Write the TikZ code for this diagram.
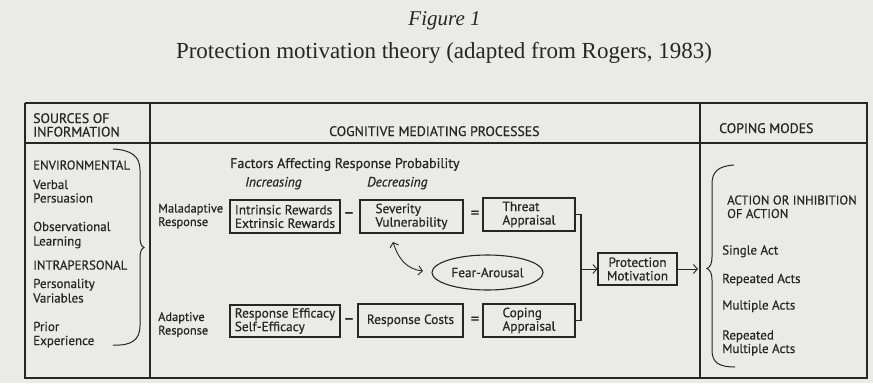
\documentclass[tikz,border=0pt]{standalone}
\usepackage{fontspec}
\setmainfont{Liberation Serif}
\newfontfamily\gill[FakeBold=0.5]{PT Sans}
\usetikzlibrary{arrows.meta,shapes.geometric}
\definecolor{paper}{RGB}{234,234,232}
\definecolor{ink}{RGB}{38,38,38}
\begin{document}
\begin{tikzpicture}[x=1pt,y=-1pt,
 txt/.style={font=\gill\fontsize{13}{13.5}\selectfont, text=ink, inner sep=0pt, anchor=base west},
 side/.style={font=\gill\fontsize{12.4}{13}\selectfont, text=ink, inner sep=0pt, anchor=base west},
 caps/.style={font=\gill\fontsize{12.8}{13}\selectfont, text=ink, inner sep=0pt, anchor=base west},
 head/.style={font=\gill\fontsize{13.8}{13}\selectfont, text=ink, inner sep=0pt, anchor=base west},
 boxn/.style={draw=ink, line width=1.1pt, font=\gill\fontsize{13.3}{13.5}\selectfont, text=ink, align=left, inner sep=0pt},
 op/.style={font=\gill\fontsize{17}{17}\selectfont, text=ink, inner sep=0pt},
 rule/.style={draw=ink, line width=1.1pt},
 arr/.style={draw=ink, line width=0.9pt, -{Straight Barb[length=4pt,width=9pt]}},
 darr/.style={draw=ink, line width=0.9pt, {Straight Barb[length=4pt,width=9pt]}-{Straight Barb[length=4pt,width=9pt]}},
]
\fill[paper] (0,0) rectangle (873,383);
\useasboundingbox (0,0) rectangle (873,383);

% titles
\node[font=\itshape\fontsize{21}{21}\selectfont, text=ink, inner sep=0pt, anchor=base] (fig) at (444.5,25) {Figure 1};
\node[font=\fontsize{23}{23}\selectfont, text=ink, inner sep=0pt, anchor=base] (title) at (444,58) {Protection motivation theory (adapted from Rogers, 1983)};

% frame
\draw[rule] (25,103) -- (25,378) -- (867,378) -- (867,103);
\draw[draw=ink, line width=1.8pt] (24.5,103) -- (867.5,103);
\draw[rule] (25,143) -- (867,143);
\draw[rule] (150,103) -- (150,378);
\draw[rule] (700,103) -- (700,378);

% column 1
\node[head] (s1) at (33,123) {SOURCES OF};
\node[head] (s2) at (33,136.5) {INFORMATION};
\node[caps] (env) at (33,169.5) {ENVIRONMENTAL};
\node[txt] (v1) at (33,189) {Verbal};
\node[txt] (v2) at (33,202.5) {Persuasion};
\node[txt] (o1) at (33,231) {Observational};
\node[txt] (o2) at (33,245.5) {Learning};
\node[caps] (intra) at (33,269.5) {INTRAPERSONAL};
\node[txt] (p1) at (33,288) {Personality};
\node[txt] (p2) at (33,302.5) {Variables};
\node[txt] (e1) at (33,331) {Prior};
\node[txt] (e2) at (33,345) {Experience};
\draw[draw=ink, line width=1pt] (113,149) .. controls (131,150) and (140,156) .. (140,170) -- (140,236)
  .. controls (140,243) and (141,246) .. (144,247.5) .. controls (141,249) and (140,252) .. (140,259)
  -- (140,326) .. controls (140,340) and (131,346) .. (113,345);

% column 2 headers
\node[head] (cmp) at (329,136) {COGNITIVE MEDIATING PROCESSES};
\node[txt, font=\gill\fontsize{14}{14}\selectfont] (fac) at (230,168) {Factors Affecting Response Probability};
\node[txt, font=\gill\itshape\fontsize{13.5}{13.5}\selectfont] (inc) at (245,186.5) {Increasing};
\node[txt, font=\gill\itshape\fontsize{13.5}{13.5}\selectfont] (dec) at (367,186.5) {Decreasing};

\node[side] (m1) at (158,212.5) {Maladaptive};
\node[side] (m2) at (158,226) {Response};
\node[side] (a1) at (158,321) {Adaptive};
\node[side] (a2) at (158,334.5) {Response};

% boxes
\node[boxn, minimum width=110pt, minimum height=33pt] (IR) at (285,216.5) {Intrinsic Rewards\\Extrinsic Rewards};
\node[op] (m-a) at (349,215) {–};
\node[boxn, minimum width=103pt, minimum height=33pt] (SV) at (411.5,216.5) {Severity\\Vulnerability};
\node[op] (e-a) at (475,214.5) {=};
\node[boxn, minimum width=92pt, minimum height=33pt] (TA) at (529,214.5) {Threat\\Appraisal};

\node[boxn, minimum width=110pt, minimum height=32pt] (RE) at (285,321) {Response Efficacy\\Self-Efficacy};
\node[op] (m-b) at (349,321) {–};
\node[boxn, minimum width=105pt, minimum height=33pt] (RC) at (410.5,320.5) {Response Costs};
\node[op] (e-b) at (475,320.5) {=};
\node[boxn, minimum width=92pt, minimum height=33pt] (CA) at (529,320.5) {Coping\\Appraisal};

\node[draw=ink, line width=1.1pt, ellipse, minimum width=111pt, minimum height=35pt, inner sep=0pt,
      font=\gill\fontsize{13.3}{13.5}\selectfont, text=ink] (FA) at (487.5,272.5) {Fear-Arousal};

\node[boxn, align=center, minimum width=79pt, minimum height=32pt] (PM) at (637.5,269) {Protection\\Motivation};

% connectors
\coordinate (jx) at (581,0);
\draw[rule] (TA.east) -- (TA.east -| jx) -- (CA.east -| jx) -- (CA.east);
\draw[arr] (PM.west -| jx) -- (PM.west);
\coordinate (ctip) at (698,269);
\draw[arr] (PM.east) -- (ctip);
\coordinate (fa1) at (393,242);
\coordinate (fa2) at (423,271);
\draw[darr] (fa1) .. controls (398,258) and (406,269) .. (fa2);

% column 3
\node[head] (cm) at (719,133) {COPING MODES};
\node[caps] (ac1) at (727,204.5) {ACTION OR INHIBITION};
\node[caps] (ac2) at (727,218) {OF ACTION};
\node[txt] (sa) at (722,254.5) {Single Act};
\node[txt] (ra) at (722,283) {Repeated Acts};
\node[txt] (ma) at (722,309.5) {Multiple Acts};
\node[txt] (rm1) at (722,339.5) {Repeated};
\node[txt] (rm2) at (722,353) {Multiple Acts};
\draw[draw=ink, line width=1pt] (734,165) .. controls (718,166) and (712,172) .. (712,184) -- (712,257)
  .. controls (712,264) and (710,267) .. (707,268.5) .. controls (710,270) and (712,273) .. (712,280)
  -- (712,350) .. controls (712,362) and (718,367) .. (735,367);
\end{tikzpicture}
\end{document}
